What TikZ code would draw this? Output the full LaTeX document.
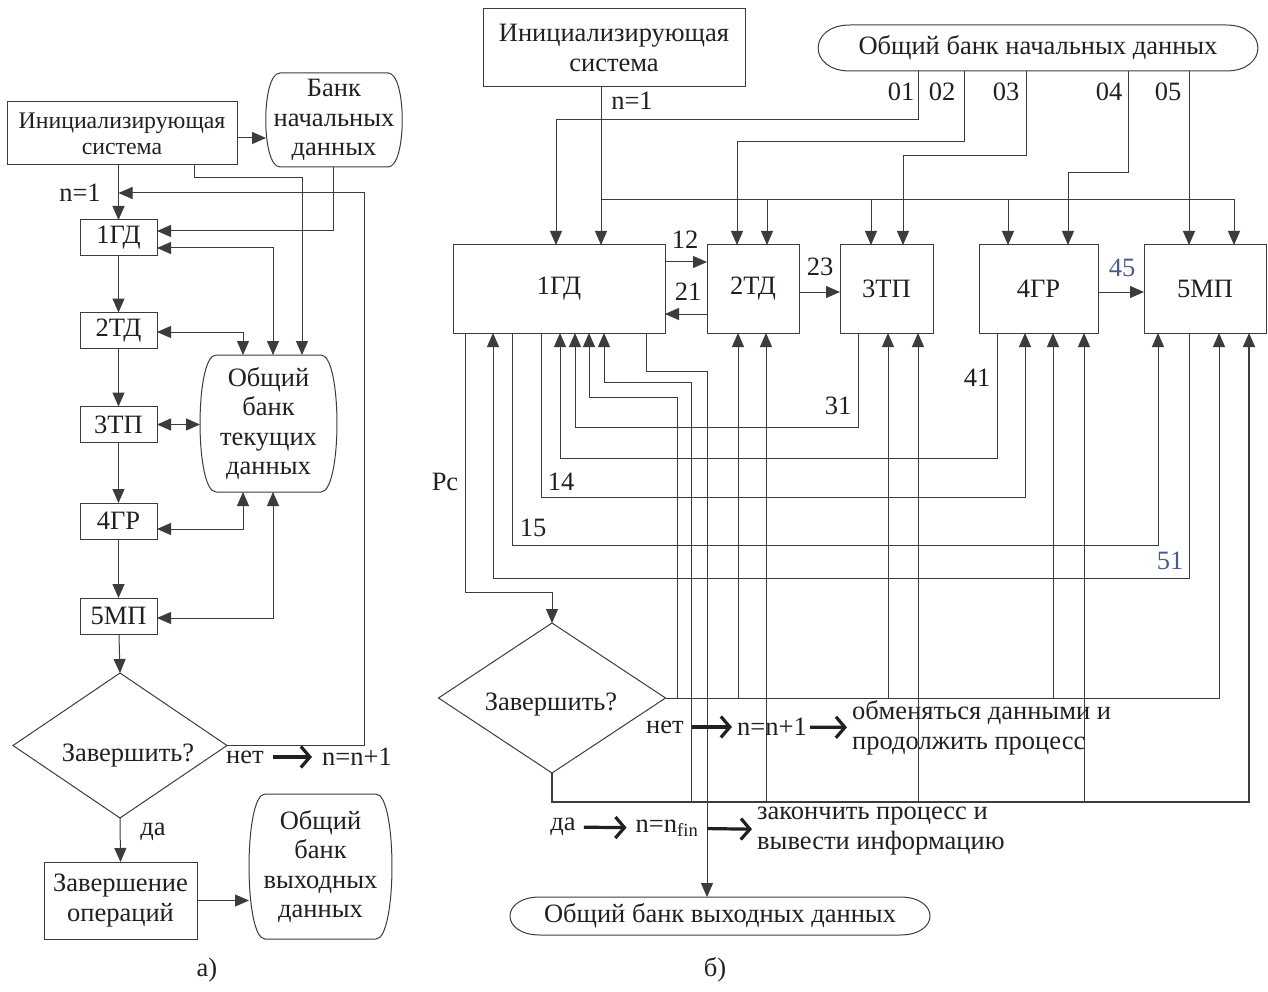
\documentclass[tikz,border=0pt]{standalone}
\usepackage{fontspec}
\setmainfont{Liberation Serif}
\usetikzlibrary{arrows.meta,calc,shapes.geometric}
\definecolor{ink}{RGB}{35,31,32}
\definecolor{wire}{RGB}{60,60,60}
\definecolor{lblue}{RGB}{72,92,140}
\newcommand\fsR{\fontsize{26.5pt}{29.5pt}\selectfont}
\newcommand\fsL{\fontsize{23.8pt}{26pt}\selectfont}
\newcommand\bankshape[3]{%
  \draw[wire,line width=1pt]
   ($(#1.north west)+(#2,0)$) -- ($(#1.north east)+(-#2,0)$)
   .. controls ($(#1.north east)+(#3,0)$) and ($(#1.south east)+(#3,0)$) .. ($(#1.south east)+(-#2,0)$)
   -- ($(#1.south west)+(#2,0)$)
   .. controls ($(#1.south west)+(-#3,0)$) and ($(#1.north west)+(-#3,0)$) .. ($(#1.north west)+(#2,0)$) -- cycle;}
\tikzset{
  blk/.style={draw=wire, line width=1pt, rectangle, inner sep=0pt, outer sep=0pt, align=center, text=ink, font=\fsR},
  bk/.style={rectangle, inner sep=0pt, outer sep=0pt, align=center, text=ink, font=\fsR},
  dia/.style={diamond, draw=wire, line width=1pt, inner sep=0pt, outer sep=0pt},
  lbl/.style={inner sep=1pt, text=ink, font=\fsR},
  ln/.style={draw=wire, line width=1pt},
  arr/.style={ln, -{Triangle[length=14pt,width=12pt]}},
  arrr/.style={ln, {Triangle[length=14pt,width=12pt]}-{Triangle[length=14pt,width=12pt]}},
  thk/.style={draw=ink, line width=3.2pt, -{Straight Barb[length=9pt,width=21pt]}},
}
\begin{document}
\begin{tikzpicture}[x=1pt,y=-1pt]
\useasboundingbox (0,0) rectangle (1268,992);
\fill[white] (0,0) rectangle (1268,992);

% ================= LEFT (a) =================
\node[blk, font=\fsL, minimum width=230pt, minimum height=63pt] (Linit) at (122,133.5) {Инициализирующая\\система};
\node[bk, minimum width=136pt, minimum height=94pt] (Lbank0) at (334,120) {Банк\\начальных\\данных};
\bankshape{Lbank0}{14}{5}
\node[blk, minimum width=77pt, minimum height=36pt] (L1) at (118.5,238) {1ГД};
\node[blk, minimum width=77pt, minimum height=36pt] (L2) at (118.5,330.5) {2ТД};
\node[blk, minimum width=77pt, minimum height=36pt] (L3) at (118.5,424.5) {3ТП};
\node[blk, minimum width=77pt, minimum height=36pt] (L4) at (118.5,521) {4ГР};
\node[blk, minimum width=77pt, minimum height=36pt] (L5) at (118.5,616) {5МП};
\node[bk, minimum width=137pt, minimum height=137pt] (Lbank) at (268.5,423.5) {Общий\\банк\\текущих\\данных};
\bankshape{Lbank}{16}{5.3}
\node[dia, minimum width=214pt, minimum height=145pt] (Ldia) at (120,745.5) {};
\node[lbl] (Ldiat) at (128,756) {Завершить?};
\node[blk, minimum width=153pt, minimum height=77pt] (Lend) at (120.5,900.5) {Завершение\\операций};
\node[bk, minimum width=143pt, minimum height=145pt] (Lbankout) at (320.5,866.5) {Общий\\банк\\выходных\\данных};
\bankshape{Lbankout}{16}{5.3}

\coordinate (Lfb) at (364,193);
\coordinate (Lb1) at (302,355);
\coordinate (Lb2) at (273,355);
\coordinate (Lb3) at (243,355);
\coordinate (Lb4) at (243,492);
\coordinate (Lb5) at (273,492);

\draw[arr] ($(Linit.east)+(0,4.5)$) -- ($(Lbank0.west)+(0,18)$);
\draw[arr] (Linit.south -| L1.north) -- (L1.north);
\node[lbl] (Ln1) at (80,193) {n=1};
\draw[arr] (Ldia.east) -| (Lfb) -- (Lfb -| L1.north);
\draw[arr] ($(Linit.south)+(72,0)$) -- ++(0,13) -| (Lb1);
\draw[arr] ($(Lbank0.south)+(-1,0)$) |- ($(L1.east)+(0,-7)$);
\draw[arrr] ($(L1.east)+(0,10)$) -| (Lb2);
\draw[arrr] ($(L2.east)+(0,1.5)$) -| (Lb3);
\draw[arrr] (L3.east) -- (L3.east -| Lbank.west);
\draw[arrr] ($(L4.east)+(0,8)$) -| (Lb4);
\draw[arrr] ($(L5.east)+(0,2)$) -| (Lb5);
\draw[arr] (L1) -- (L2);
\draw[arr] (L2) -- (L3);
\draw[arr] (L3) -- (L4);
\draw[arr] (L4) -- (L5);
\draw[arr] (L5) -- (Ldia.north);
\draw[arr] (Ldia.south) -- (Lend.north);
\node[lbl] (Lda) at (153,832) {да};
\draw[arr] (Lend.east) -- ($(Lbankout.west)+(0,34)$);
\node[lbl] (Lnet) at (245,757) {нет};
\node[lbl] (Lnn) at (357,757) {n=n+1};
\draw[thk, shorten <=8pt, shorten >=9pt] (Lnet) -- (Lnn);
\node[lbl] (capA) at (207,970) {а)};

% ================= RIGHT (b) =================
\node[blk, minimum width=262pt, minimum height=78pt] (Rinit) at (614,48) {Инициализирующая\\система};
\node[bk, minimum width=440pt, minimum height=46pt] (Rbank0) at (1038,48) {Общий банк начальных данных};
\bankshape{Rbank0}{32}{10.5}
\node[blk, minimum width=212pt, minimum height=88pt] (R1) at (559,289) {1ГД};
\node[blk, minimum width=92pt, minimum height=88pt] (R2) at (753,289) {2ТД};
\node[blk, minimum width=93pt, minimum height=88pt] (R3) at (886.5,289) {3ТП};
\node[blk, minimum width=119pt, minimum height=88pt] (R4) at (1038.5,289) {4ГР};
\node[blk, minimum width=122pt, minimum height=88pt] (R5) at (1205,289) {5МП};
\node[dia, minimum width=227pt, minimum height=150pt] (Rdia) at (552,698) {};
\node[lbl] (Rdiat) at (551,705) {Завершить?};
\node[bk, minimum width=420pt, minimum height=38pt] (Rbankout) at (720,916) {Общий банк выходных данных};
\bankshape{Rbankout}{30}{10}

% top taps
\coordinate (t1a) at (556,245);
\coordinate (t1b) at (601,245);
\coordinate (t2a) at (737,245);
\coordinate (t2b) at (767,245);
\coordinate (t3a) at (871,245);
\coordinate (t3b) at (903,245);
\coordinate (t4a) at (1008,245);
\coordinate (t4b) at (1068,245);
\coordinate (t5a) at (1189,245);
\coordinate (t5b) at (1234,245);
\coordinate (bus) at (0,200);
% bank outputs
\coordinate (o1) at (918,71);
\coordinate (o2) at (964,71);
\coordinate (o3) at (1026,71);
\coordinate (o4) at (1128,71);
\coordinate (o5) at (1189,71);
% bottom taps
\coordinate (b1pc) at (465,333);
\coordinate (b1i51) at (493,333);
\coordinate (b1o15) at (512,333);
\coordinate (b1o14) at (541,333);
\coordinate (b1i41) at (560,333);
\coordinate (b1i31) at (575,333);
\coordinate (b1iA) at (589,333);
\coordinate (b1iB) at (604,333);
\coordinate (b1out) at (646,333);
\coordinate (b2A) at (738,333);
\coordinate (b2B) at (766,333);
\coordinate (b3o) at (858,333);
\coordinate (b3A) at (888,333);
\coordinate (b3B) at (918,333);
\coordinate (b4o) at (997,333);
\coordinate (b4i14) at (1025,333);
\coordinate (b4A) at (1053,333);
\coordinate (b4B) at (1084,333);
\coordinate (b5i15) at (1158,333);
\coordinate (b5o) at (1189,333);
\coordinate (b5A) at (1219,333);
\coordinate (b5B) at (1249,333);
\coordinate (ob) at (707,897);

% init
\draw[arr] (Rinit.south -| t1b) -- (t1b);
\draw[arr] (t1b |- bus) -| (t5b);
\draw[arr] (t2b |- bus) -- (t2b);
\draw[arr] (t3a |- bus) -- (t3a);
\draw[arr] (t4a |- bus) -- (t4a);
\node[lbl] (rn1) at (632,101) {n=1};
% bank outputs
\draw[arr] (o1) -- (918,120) -| (t1a);
\draw[arr] (o2) -- (964,142) -| (t2a);
\draw[arr] (o3) -- (1026,156) -| (t3b);
\draw[arr] (o4) -- (1128,173) -| (t4b);
\draw[arr] (o5) -- (t5a);
\node[lbl] at (901,92) {01};
\node[lbl] at (942,92) {02};
\node[lbl] at (1006,92) {03};
\node[lbl] at (1109,92) {04};
\node[lbl] at (1168,92) {05};
% horizontal links
\draw[arr] ($(R1.east)+(0,-27)$) -- ($(R2.west)+(0,-27)$);
\draw[arr] ($(R2.west)+(0,25)$) -- ($(R1.east)+(0,25)$);
\draw[arr] ($(R2.east)+(0,3)$) -- ($(R3.west)+(0,3)$);
\draw[arr] ($(R4.east)+(0,3)$) -- ($(R5.west)+(0,3)$);
\node[lbl] at (685,240) {12};
\node[lbl] at (688,292) {21};
\node[lbl] at (820,267) {23};
\node[lbl, text=lblue] at (1122,268) {45};
% bottom links
\draw[arr] (b1pc) -- (465,592) -| (Rdia.north);
\draw[arr] (b5o) -- (1189,578) -| (b1i51);
\draw[arr] (b1o15) -- (512,545) -| (b5i15);
\draw[arr] (b1o14) -- (541,497) -| (b4i14);
\draw[arr] (b4o) -- (997,458) -| (b1i41);
\draw[arr] (b3o) -- (858,427) -| (b1i31);
\draw[arr] (677,699) -- (677,397) -| (b1iA);
\draw[arr] (691,802) -- (691,382) -| (b1iB);
\draw[arr] (b1out) -- (646,371) -| (ob);
\node[lbl] at (445,482) {Рс};
\node[lbl] at (561,482) {14};
\node[lbl] at (533,528) {15};
\node[lbl, text=lblue] at (1170,561) {51};
\node[lbl] at (977,378) {41};
\node[lbl] at (838,406) {31};
% decision lines
\draw[arr] (Rdia.east) -| (b5A);
\draw[arr] (738,699) -- (b2A);
\draw[arr] (888,699) -- (b3A);
\draw[arr] (1053,699) -- (b4A);
\draw[arr, line width=1.6pt] (Rdia.south) -- (552,802) -| (b5B);
\draw[arr] (766,802) -- (b2B);
\draw[arr] (918,802) -- (b3B);
\draw[arr] (1084,802) -- (b4B);
% texts
\node[lbl] (rnet) at (665,727) {нет};
\node[lbl] (rnn1) at (772,727) {n=n+1};
\node[lbl, anchor=west, align=left] (rexch) at (851,728) {обменяться данными и\\продолжить процесс};
\draw[thk, shorten <=7pt, shorten >=4pt] (rnet) -- (rnn1);
\draw[thk, shorten <=2pt, shorten >=4pt] (rnn1) -- (rexch);
\node[lbl] (rda) at (563,827) {да};
\node[lbl] (rnfin) at (667,828) {n=n\textsubscript{fin}};
\node[lbl, anchor=west, align=left] (rend) at (756,831) {закончить процесс и\\вывести информацию};
\draw[thk, shorten <=7pt, shorten >=8pt] (rda) -- (rnfin);
\draw[thk, shorten <=8pt, shorten >=4pt] (rnfin) -- (rend);
\node[lbl] (capB) at (715,970) {б)};
\end{tikzpicture}
\end{document}
